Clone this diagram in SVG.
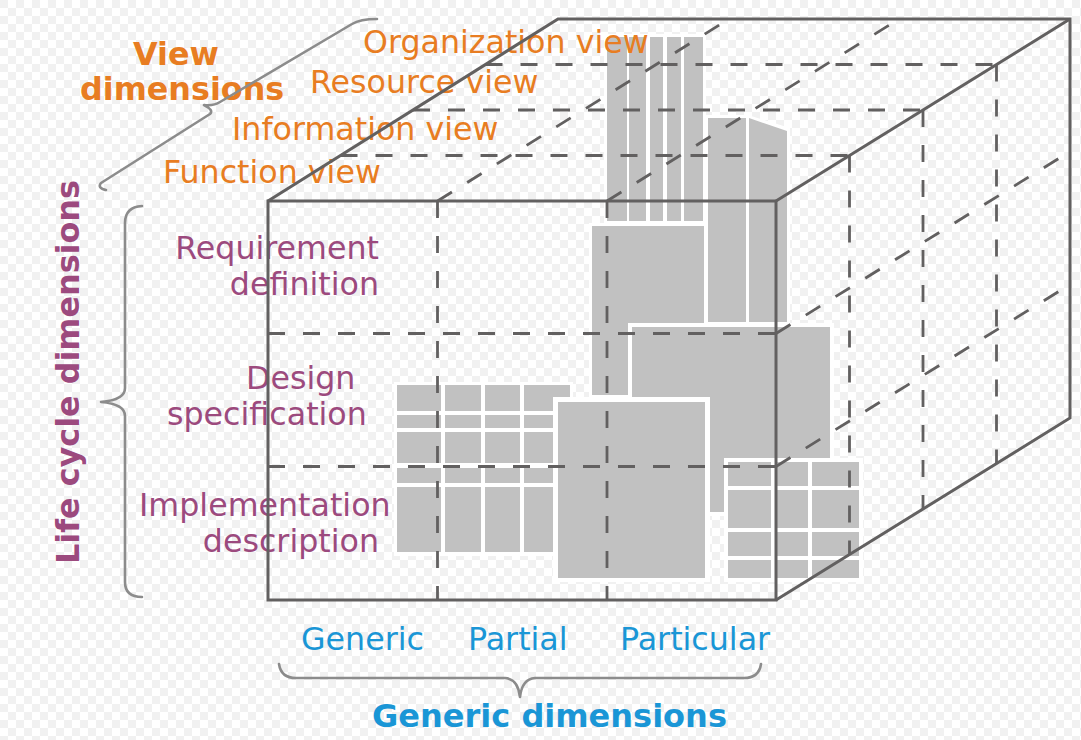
<svg xmlns="http://www.w3.org/2000/svg" width="1081" height="740" viewBox="0 0 1081 740">
<defs>
<pattern id="chk" width="16" height="16" patternUnits="userSpaceOnUse">
<rect width="16" height="16" fill="#ffffff"/>
<rect width="8" height="8" fill="#f1f1f1"/>
<rect x="8" y="8" width="8" height="8" fill="#f1f1f1"/>
</pattern>
<style>
.bd{fill:#ffffff}
.c{fill:#c1c1c1}
.solid{fill:none;stroke:#626060;stroke-width:3;stroke-linejoin:miter}
.dash{fill:none;stroke:#626060;stroke-width:2.8;stroke-dasharray:17 18}
.brace{fill:none;stroke:#8c8c8c;stroke-width:2.6;stroke-linecap:round;stroke-linejoin:round}
.t{font-family:"DejaVu Sans","Verdana",sans-serif;font-size:31.7px}
.b{font-family:"DejaVu Sans","Verdana",sans-serif;font-size:31.8px;font-weight:bold}
.or{fill:#e87d22}
.pu{fill:#9c4a7e}
.bl{fill:#1a96d6}
</style>
</defs>
<rect width="1081" height="740" fill="url(#chk)"/>

<g id="blocks">
<g id="block-a">
<rect class="bd" x="604" y="34" width="102" height="190"/>
<rect class="c" x="607" y="37" width="20" height="184"/>
<rect class="c" x="629" y="37" width="17" height="184"/>
<rect class="c" x="650" y="37" width="13" height="184"/>
<rect class="c" x="667" y="37" width="14" height="184"/>
<rect class="c" x="684" y="37" width="19" height="184"/>
</g>
<g id="block-e">
<rect class="bd" x="589" y="223" width="118" height="175"/>
<rect class="c" x="592" y="226" width="112" height="169"/>
</g>
<g id="block-b">
<polygon class="bd" points="705,115 748,115 790,128 790,325 705,325"/>
<rect class="c" x="708" y="118" width="38" height="204"/>
<polygon class="c" points="749,118 787,131 787,322 749,322"/>
</g>
<g id="block-c">
<rect class="bd" x="628" y="323" width="206" height="193"/>
<rect class="c" x="632" y="327" width="198" height="185"/>
</g>
<g id="block-g">
<rect class="bd" x="394" y="382" width="179" height="174"/>
<rect class="c" x="397" y="385" width="44" height="26"/>
<rect class="c" x="445" y="385" width="36" height="26"/>
<rect class="c" x="485" y="385" width="35" height="26"/>
<rect class="c" x="524" y="385" width="46" height="26"/>
<rect class="c" x="397" y="415" width="44" height="13"/>
<rect class="c" x="445" y="415" width="36" height="13"/>
<rect class="c" x="485" y="415" width="35" height="13"/>
<rect class="c" x="524" y="415" width="46" height="13"/>
<rect class="c" x="397" y="432" width="44" height="31"/>
<rect class="c" x="445" y="432" width="36" height="31"/>
<rect class="c" x="485" y="432" width="35" height="31"/>
<rect class="c" x="524" y="432" width="46" height="31"/>
<rect class="c" x="397" y="468" width="44" height="15"/>
<rect class="c" x="445" y="468" width="36" height="15"/>
<rect class="c" x="485" y="468" width="35" height="15"/>
<rect class="c" x="524" y="468" width="46" height="15"/>
<rect class="c" x="397" y="487" width="44" height="65"/>
<rect class="c" x="445" y="487" width="36" height="65"/>
<rect class="c" x="485" y="487" width="35" height="65"/>
<rect class="c" x="524" y="487" width="46" height="65"/>
</g>
<g id="block-d">
<rect class="bd" x="553" y="397" width="157" height="185"/>
<rect class="c" x="558" y="402" width="147" height="176"/>
</g>
<g id="block-f">
<rect class="bd" x="724" y="458" width="139" height="124"/>
<rect class="c" x="728" y="462" width="43" height="24"/>
<rect class="c" x="775" y="462" width="33" height="24"/>
<rect class="c" x="812" y="462" width="47" height="24"/>
<rect class="c" x="728" y="490" width="43" height="38"/>
<rect class="c" x="775" y="490" width="33" height="38"/>
<rect class="c" x="812" y="490" width="47" height="38"/>
<rect class="c" x="728" y="532" width="43" height="24"/>
<rect class="c" x="775" y="532" width="33" height="24"/>
<rect class="c" x="812" y="532" width="47" height="24"/>
<rect class="c" x="728" y="560" width="43" height="18"/>
<rect class="c" x="775" y="560" width="33" height="18"/>
<rect class="c" x="812" y="560" width="47" height="18"/>
</g>
</g>

<g id="labels">
<g id="view-labels">
<text class="b or" x="133" y="65">View</text>
<text class="b or" x="80" y="100">dimensions</text>
<text class="t or" x="363" y="53">Organization view</text>
<text class="t or" x="310" y="93">Resource view</text>
<text class="t or" x="232" y="140">Information view</text>
<text class="t or" x="163" y="183">Function view</text>
</g>
<g id="lifecycle-labels">
<text class="b pu" transform="translate(79,372) rotate(-90)" text-anchor="middle">Life cycle dimensions</text>
<text class="t pu" x="379" y="259" text-anchor="end">Requirement</text>
<text class="t pu" x="379" y="295" text-anchor="end">definition</text>
<text class="t pu" x="246" y="389">Design</text>
<text class="t pu" x="167" y="425">specification</text>
<text class="t pu" x="139" y="516">Implementation</text>
<text class="t pu" x="379" y="552" text-anchor="end">description</text>
</g>
<g id="generic-labels">
<text class="t bl" x="301" y="650">Generic</text>
<text class="t bl" x="468" y="650">Partial</text>
<text class="t bl" x="620" y="650">Particular</text>
<text class="b bl" x="549.5" y="727" text-anchor="middle" style="font-size:32px">Generic dimensions</text>
</g>
</g>

<g id="connectors">
<g id="cube-dashed">
<line class="dash" x1="268" y1="333.5" x2="776" y2="333.5"/>
<line class="dash" x1="268" y1="466.5" x2="776" y2="466.5"/>
<line class="dash" x1="437.5" y1="201" x2="437.5" y2="600"/>
<line class="dash" x1="607" y1="201" x2="607" y2="600"/>
<line class="dash" x1="340.5" y1="155.5" x2="849.5" y2="155.5"/>
<line class="dash" x1="413" y1="110" x2="923" y2="110"/>
<line class="dash" x1="485.5" y1="64.5" x2="996.5" y2="64.5"/>
<line class="dash" x1="437.5" y1="201" x2="729" y2="19"/>
<line class="dash" x1="607" y1="201" x2="899" y2="19"/>
<line class="dash" x1="849.5" y1="155.5" x2="849.5" y2="554.5"/>
<line class="dash" x1="923" y1="110" x2="923" y2="509"/>
<line class="dash" x1="996.5" y1="64.5" x2="996.5" y2="463.5"/>
<line class="dash" x1="776" y1="333.5" x2="1070" y2="151.5"/>
<line class="dash" x1="776" y1="466.5" x2="1070" y2="284.5"/>
</g>
<g id="cube-solid">
<rect class="solid" x="268" y="201" width="508" height="399"/>
<polyline class="solid" points="268,201 558,19 1070,19 1070,418 776,600"/>
<line class="solid" x1="776" y1="201" x2="1070" y2="19"/>
</g>
<g id="braces">
<path class="brace" d="M106,190 Q97,188 101,183 L210,114 Q214,110 204,105 Q214,106 220,102 L352,24 Q360,19 377,19"/>
<path class="brace" d="M142,206 Q125,207 125,223 L125,388 Q125,400 101,402 Q125,404 125,416 L125,582 Q125,597 142,597"/>
<path class="brace" d="M279,664 Q281,678 296,678 L505,678 Q518,679 520,697 Q522,679 535,678 L744,678 Q759,678 761,664"/>
</g>
</g>
</svg>
